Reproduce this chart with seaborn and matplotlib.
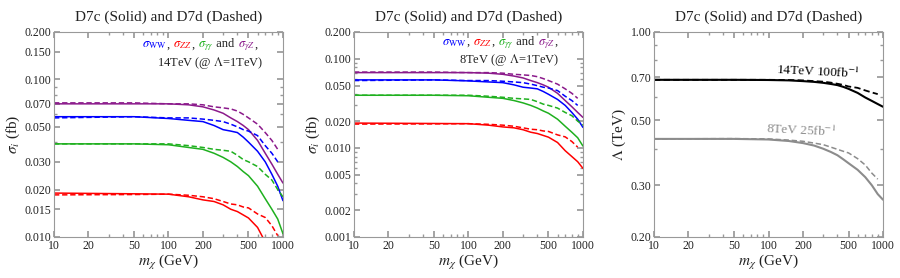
import numpy as np
import pandas as pd
import matplotlib
matplotlib.use("Agg")
import matplotlib.pyplot as plt
import seaborn as sns
from matplotlib import ticker, transforms

# dark matter mass grid (GeV)
mass = [10, 50, 100, 150, 200, 250, 300, 350, 400, 450, 500, 600, 700, 800, 900, 1000]

# cross sections (fb) at Lambda = 1 TeV, D7c solid / D7d dashed
gz_c = [0.070, 0.070, 0.070, 0.069, 0.067, 0.064, 0.061, 0.057, 0.054, 0.051, 0.048, 0.041, 0.034, 0.029, 0.025, 0.022]
gz_d = [0.071, 0.071, 0.070, 0.070, 0.069, 0.067, 0.066, 0.065, 0.063, 0.060, 0.057, 0.052, 0.046, 0.041, 0.036, np.nan]
ww_c = [0.058, 0.058, 0.0565, 0.055, 0.054, 0.051, 0.048, 0.047, 0.046, 0.043, 0.040, 0.035, 0.030, 0.025, 0.021, 0.017]
ww_d = [0.057, 0.058, 0.057, 0.057, 0.056, 0.055, 0.054, 0.052, 0.050, 0.048, 0.047, 0.044, 0.038, 0.034, 0.030, np.nan]
aa_c = [0.039, 0.039, 0.0385, 0.037, 0.036, 0.034, 0.032, 0.030, 0.028, 0.026, 0.0245, 0.021, 0.0175, 0.015, 0.013, 0.0105]
aa_d = [0.039, 0.039, 0.039, 0.038, 0.037, 0.036, 0.0355, 0.035, 0.033, 0.031, 0.030, 0.028, 0.025, 0.023, 0.020, 0.018]
zz_c = [0.019, 0.0188, 0.0187, 0.018, 0.0172, 0.0168, 0.016, 0.015, 0.0145, 0.0138, 0.0132, 0.0115, 0.0093, 0.008, 0.007, 0.0059]
zz_d = [0.0185, 0.0186, 0.0187, 0.0184, 0.018, 0.0175, 0.0168, 0.0162, 0.016, 0.0155, 0.0153, 0.014, 0.0133, 0.0118, 0.0102, np.nan]

# Lambda reach (TeV)
lam14_c = [0.687, 0.687, 0.686, 0.684, 0.680, 0.676, 0.671, 0.665, 0.659, 0.650, 0.640, 0.620, 0.598, 0.582, 0.568, 0.556]
lam14_d = [0.687, 0.687, 0.687, 0.686, 0.684, 0.680, 0.677, 0.672, 0.666, 0.660, 0.652, 0.645, 0.632, 0.622, 0.614, np.nan]
lam8_c = [0.432, 0.432, 0.430, 0.425, 0.418, 0.410, 0.400, 0.390, 0.380, 0.368, 0.357, 0.339, 0.320, 0.300, 0.280, 0.268]
lam8_d = [0.432, 0.433, 0.432, 0.428, 0.424, 0.418, 0.413, 0.405, 0.398, 0.392, 0.387, 0.370, 0.352, 0.330, 0.315, np.nan]

xticks = [10, 20, 50, 100, 200, 500, 1000]
yticks1 = [0.010, 0.015, 0.020, 0.030, 0.050, 0.070, 0.100, 0.150, 0.200]
yticks2 = [0.001, 0.002, 0.005, 0.010, 0.020, 0.050, 0.100, 0.200]
yticks3 = [0.20, 0.30, 0.50, 0.70, 1.00]

BLUE, RED, GREEN, PURPLE = "#0000ff", "#ff0000", "#1fb01f", "#8b1a8b"
TXT = "#222222"
DASH = (0, (3.5, 1.8))

sns.set_theme(style="ticks")
plt.rcParams["font.family"] = ["Liberation Serif", "DejaVu Serif"]
plt.rcParams["mathtext.fontset"] = "stix"
plt.rcParams["axes.edgecolor"] = "#999999"
plt.rcParams["axes.linewidth"] = 0.8

fig = plt.figure(figsize=(9, 2.78), dpi=100)
w, h, b = 0.2544, 0.7374, 0.1475
ax1 = fig.add_axes([0.060, b, w, h])
ax2 = fig.add_axes([0.3933, b, w, h])
ax3 = fig.add_axes([0.7267, b, w, h])


def draw(ax, y, color, dashed=False, lw=1.1):
    df = pd.DataFrame({"m": mass, "v": y})
    sns.lineplot(data=df, x="m", y="v", ax=ax, color=color, lw=lw,
                 linestyle=DASH if dashed else "-", estimator=None)


def style(ax, ylim, yt, fmt, ylabel):
    ax.set_xscale("log")
    ax.set_yscale("log")
    ax.set_xlim(10, 1000)
    ax.set_ylim(*ylim)
    ax.xaxis.set_major_locator(ticker.FixedLocator(xticks))
    ax.xaxis.set_major_formatter(ticker.FixedFormatter([str(t) for t in xticks]))
    ax.xaxis.set_minor_locator(ticker.LogLocator(subs=np.arange(2, 10)))
    ax.xaxis.set_minor_formatter(ticker.NullFormatter())
    ax.yaxis.set_major_locator(ticker.FixedLocator(yt))
    ax.yaxis.set_major_formatter(ticker.FixedFormatter([fmt % t for t in yt]))
    ax.yaxis.set_minor_locator(ticker.LogLocator(subs=np.arange(2, 10)))
    ax.yaxis.set_minor_formatter(ticker.NullFormatter())
    ax.tick_params(which="both", direction="in", top=True, right=True,
                   color="#999999", labelsize=8.5, labelcolor=TXT, pad=2)
    ax.tick_params(which="major", length=4)
    ax.tick_params(which="minor", length=2)
    ax.set_title("D7c (Solid) and D7d (Dashed)", fontsize=11, color=TXT, pad=8)
    ax.set_xlabel(r"$m_\chi$ (GeV)", fontsize=11, color=TXT, labelpad=1)
    ax.set_ylabel(ylabel, fontsize=11, color=TXT, labelpad=2)


def colored_text(ax, x, y, parts, size):
    r = fig.canvas.get_renderer()
    trans = ax.transAxes
    for s, c in parts:
        t = ax.text(x, y, s, color=c, transform=trans, fontsize=size, va="baseline")
        wd = t.get_window_extent(renderer=r).width
        trans = transforms.offset_copy(trans, fig=fig, x=wd, units="dots")


legend_parts = [(r"$\sigma_{\rm WW}$", BLUE), (",", TXT), (r" $\sigma_{ZZ}$", RED), (",", TXT),
                (r" $\sigma_{\gamma\gamma}$", GREEN), (" and", TXT), (r" $\sigma_{\gamma Z}$", PURPLE),
                (",", TXT)]

for ax, ylim, yt in [(ax1, (0.01, 0.2), yticks1), (ax2, (0.001, 0.2), yticks2)]:
    for c_, d_, col in [(gz_c, gz_d, PURPLE), (ww_c, ww_d, BLUE), (aa_c, aa_d, GREEN), (zz_c, zz_d, RED)]:
        draw(ax, c_, col)
        draw(ax, d_, col, dashed=True)
    style(ax, ylim, yt, "%.3f", r"$\sigma_i$ (fb)")

colored_text(ax1, 0.385, 0.925, legend_parts, 9)
ax1.text(0.915, 0.835, r"14TeV (@ $\Lambda$=1TeV)", transform=ax1.transAxes,
         ha="right", va="baseline", fontsize=9, color=TXT)
colored_text(ax2, 0.385, 0.938, legend_parts, 9)
ax2.text(0.895, 0.850, r"8TeV (@ $\Lambda$=1TeV)", transform=ax2.transAxes,
         ha="right", va="baseline", fontsize=9, color=TXT)

draw(ax3, lam14_c, "black", lw=1.5)
draw(ax3, lam14_d, "black", dashed=True, lw=1.3)
draw(ax3, lam8_c, "#8c8c8c", lw=1.5)
draw(ax3, lam8_d, "#8c8c8c", dashed=True, lw=1.1)
style(ax3, (0.2, 1.0), yticks3, "%.2f", r"$\Lambda$ (TeV)")
ax3.text(115, 0.697, r"14TeV 100fb$^{-1}$", fontsize=9.5, color="black",
         ha="left", va="baseline", rotation=-3)
ax3.text(95, 0.44, r"8TeV 25fb$^{-1}$", fontsize=9.5, color="#8c8c8c",
         ha="left", va="baseline", rotation=-3)

fig.savefig("out.png", dpi=100)
